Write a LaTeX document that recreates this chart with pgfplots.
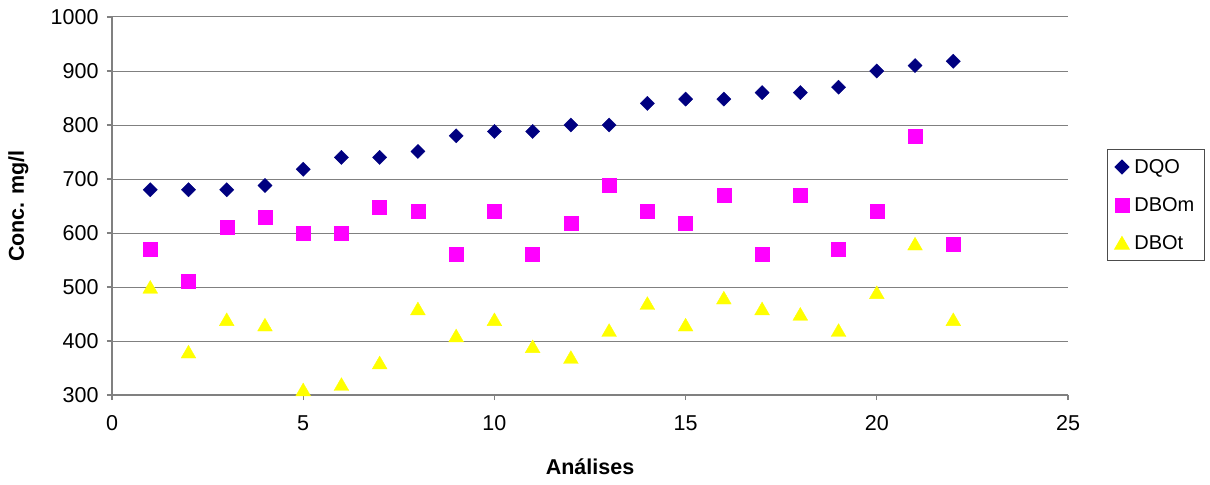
\documentclass[border=0pt]{standalone}
\usepackage{pgfplots}
\pgfplotsset{compat=1.18}
\usepackage{fontspec}
\setmainfont{Liberation Sans}
\definecolor{dqo}{RGB}{0,0,128}
\definecolor{dbom}{RGB}{255,0,255}
\definecolor{dbot}{RGB}{255,255,0}
\definecolor{gridc}{RGB}{128,128,128}
\begin{document}
\begin{tikzpicture}
\begin{axis}[
  scale only axis,
  width=956bp, height=378bp,
  xmin=0, xmax=25, ymin=300, ymax=1000,
  xtick={0,5,...,25}, ytick={300,400,...,1000},
  axis x line*=bottom, axis y line*=left,
  axis line style={gridc, line width=1.2pt, -},
  tick align=outside, major tick length=5bp,
  tick style={gridc, line width=1.2pt},
  ymajorgrids, grid style={gridc, line width=1pt},
  /pgf/number format/assume math mode=true,
  /pgf/number format/set thousands separator={},
  ticklabel style={font=\fontsize{21.5bp}{25bp}\selectfont},
  yticklabel style={xshift=-5bp},
  xticklabel style={yshift=-12bp},
  xlabel={\textbf{Análises}}, ylabel={\textbf{Conc. mg/l}},
  every axis x label/.style={at={(axis description cs:0.5,-0.19)}, anchor=center, font=\fontsize{21.5bp}{25bp}\selectfont},
  every axis y label/.style={at={(axis description cs:-0.098,0.5)}, rotate=90, anchor=center, font=\fontsize{21.5bp}{25bp}\selectfont},
  legend style={at={(1.041,0.651)}, anchor=north west, draw=black!70, line width=0.8pt,
    font=\fontsize{20bp}{24bp}\selectfont, row sep=22.5bp, column sep=2bp, inner xsep=7bp, inner ysep=10bp,
    nodes={inner xsep=3bp, inner ysep=0bp}},
  legend image code/.code={\draw[#1] plot coordinates {(0bp,0bp)};},
  legend cell align=left,
  clip=false,
]
\addplot[only marks, mark=square*, mark size=5bp, mark options={fill=dqo, draw=dqo, rotate=45}] coordinates {
(1,680)(2,680)(3,680)(4,688)(5,718)(6,740)(7,740)(8,751)(9,780)(10,788)(11,788)(12,800)(13,800)(14,840)(15,848)(16,848)(17,860)(18,860)(19,870)(20,900)(21,910)(22,918)};
\addlegendentry{DQO}
\addplot[only marks, mark=square*, mark size=7bp, mark options={fill=dbom, draw=dbom}] coordinates {
(1,570)(2,510)(3,610)(4,630)(5,600)(6,600)(7,648)(8,640)(9,560)(10,640)(11,560)(12,618)(13,688)(14,640)(15,618)(16,670)(17,560)(18,670)(19,570)(20,640)(21,780)(22,580)};
\addlegendentry{DBOm}
\addplot[only marks, mark=triangle*, mark size=8.5bp, mark options={fill=dbot, draw=dbot, yshift=-2bp}] coordinates {
(1,500)(2,380)(3,440)(4,430)(5,310)(6,320)(7,360)(8,460)(9,410)(10,440)(11,390)(12,370)(13,420)(14,470)(15,430)(16,480)(17,460)(18,450)(19,420)(20,490)(21,580)(22,440)};
\addlegendentry{DBOt}
\end{axis}
\path (current axis.south west) ++(-112bp,-90bp) rectangle ++(1210bp,485bp);
\end{tikzpicture}
\end{document}
